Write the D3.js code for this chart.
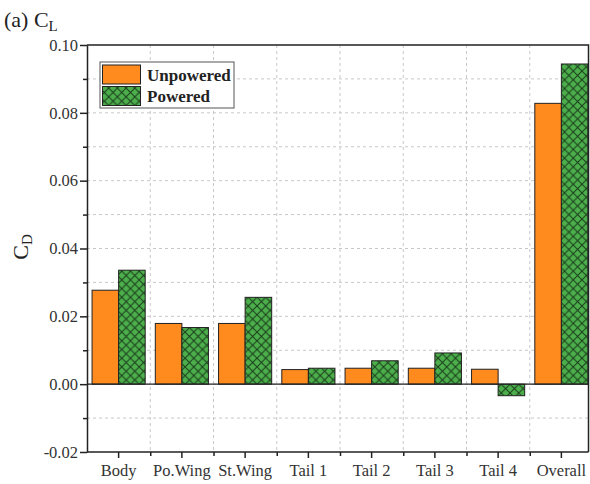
<!DOCTYPE html>
<html lang="en">
<head>
<meta charset="UTF-8">
<title>CD bar chart</title>
<script src="https://d3js.org/d3.v7.min.js"></script>
<style>
  body { margin: 0; background: #fff; }
  svg { display: block; }
  svg text { font-family: "Liberation Serif", "Times New Roman", serif; }
  .grid line { stroke: #c8c8c8; stroke-dasharray: 3,3; }
</style>
</head>
<body>
<svg width="590" height="484"></svg>
<script>
// data
var categories = ["Body", "Po.Wing", "St.Wing", "Tail 1", "Tail 2", "Tail 3", "Tail 4", "Overall"];
var unpowered = [0.0277, 0.0179, 0.0179, 0.0043, 0.0047, 0.0047, 0.0044, 0.0828];
var powered   = [0.0336, 0.0167, 0.0256, 0.0047, 0.0069, 0.0092, -0.0034, 0.0944];
var seriesNames = ["Unpowered", "Powered"];
var yTicks = [-0.02, 0.00, 0.02, 0.04, 0.06, 0.08, 0.10];

var svg = d3.select("svg"),
    margin = {top: 45, left: 87},
    width = 506,
    frameW = 501.5,
    height = 407;

var defs = svg.append("defs");
var pat = defs.append("pattern")
    .attr("id", "hatch")
    .attr("patternUnits", "userSpaceOnUse")
    .attr("width", 8.7).attr("height", 8.7);
pat.append("rect").attr("width", 8.7).attr("height", 8.7).attr("fill", "#4caf4c");
pat.append("path").attr("d", "M0,0L8.7,8.7M8.7,0L0,8.7")
    .attr("stroke", "#1a3a1a").attr("stroke-width", 1);

var g = svg.append("g").attr("transform", "translate(" + margin.left + "," + margin.top + ")");

var x = d3.scaleBand().domain(categories).range([0, width]);
var x1 = d3.scaleBand().domain(seriesNames).range([x.bandwidth() * 0.08, x.bandwidth() * 0.92]);
var y = d3.scaleLinear().domain([-0.02, 0.10]).range([height, 0]);
var px = d3.scaleLinear().domain([0, width]).range([0, width]);

// grid
var minor = d3.range(-1, 10).map(function(i) { return i / 100; });
g.append("g").attr("class", "grid")
  .selectAll("line").data(minor).enter().append("line")
  .attr("x1", 0).attr("x2", frameW)
  .attr("y1", function(d) { return y(d); }).attr("y2", function(d) { return y(d); });
g.append("g").attr("class", "grid")
  .selectAll("line").data(categories.slice(1)).enter().append("line")
  .attr("x1", function(d) { return x(d); }).attr("x2", function(d) { return x(d); })
  .attr("y1", 0).attr("y2", height);

// bars
var rows = categories.map(function(c, i) {
  return {cat: c, vals: [{s: "Unpowered", v: unpowered[i]}, {s: "Powered", v: powered[i]}]};
});
var grp = g.selectAll(".grp").data(rows).enter().append("g")
  .attr("transform", function(d) { return "translate(" + x(d.cat) + ",0)"; });
grp.selectAll("rect").data(function(d) { return d.vals; }).enter().append("rect")
  .attr("x", function(d) { return x1(d.s); })
  .attr("width", x1.bandwidth())
  .attr("y", function(d) { return y(Math.max(0, d.v)); })
  .attr("height", function(d) { return Math.abs(y(d.v) - y(0)); })
  .attr("fill", function(d) { return d.s === "Unpowered" ? "#ff8a1e" : "url(#hatch)"; })
  .attr("stroke", "#222").attr("stroke-width", 1);

// zero line
g.append("line").attr("x1", 0).attr("x2", frameW)
  .attr("y1", y(0)).attr("y2", y(0)).attr("stroke", "#222").attr("stroke-width", 1.2);

// axes
var yAxis = g.append("g")
  .call(d3.axisLeft(y).tickValues(yTicks)
    .tickFormat(function(d) { return d3.format(".2f")(d).replace("\u2212", "-"); })
    .tickSize(7).tickSizeOuter(0));
yAxis.selectAll("text").attr("font-size", 16.5).attr("fill", "#333").attr("x", -9);
g.append("g").call(d3.axisLeft(y).tickValues(minor.filter(function(d, i) { return i % 2 === 0; }))
    .tickFormat("").tickSize(4).tickSizeOuter(0))
  .select(".domain").remove();

var xAxis = g.append("g").attr("transform", "translate(0," + height + ")")
  .call(d3.axisBottom(x).tickSize(6).tickSizeOuter(0));
xAxis.select(".domain").attr("d", "M0,0H" + frameW);
xAxis.selectAll("text").attr("font-size", 16.5).attr("fill", "#333").attr("y", 12).attr("dy", "0.71em");
g.append("g").attr("transform", "translate(0," + height + ")")
  .call(d3.axisBottom(px)
    .tickValues(categories.slice(1).map(function(c) { return x(c); }))
    .tickFormat("").tickSize(4).tickSizeOuter(0))
  .select(".domain").remove();
g.selectAll(".domain, .tick line").attr("stroke", "#222").attr("stroke-width", 1.5);

// frame top / right
g.append("path").attr("d", "M0,0H" + frameW + "V" + height)
  .attr("fill", "none").attr("stroke", "#222").attr("stroke-width", 1.5);

// legend
var lg = svg.append("g").attr("transform", "translate(100,62)");
lg.append("rect").attr("width", 134).attr("height", 46).attr("fill", "#fff")
  .attr("stroke", "#555").attr("stroke-width", 1);
seriesNames.forEach(function(s, i) {
  lg.append("rect").attr("x", 2.5).attr("y", 3 + i * 21.5).attr("width", 38).attr("height", 19)
    .attr("fill", i === 0 ? "#ff8a1e" : "url(#hatch)").attr("stroke", "#222");
  lg.append("text").attr("x", 47).attr("y", 18.5 + i * 21.5).text(s)
    .attr("font-size", 17).attr("font-weight", "bold").attr("fill", "#222");
});

// titles
var t = svg.append("text").attr("x", 4).attr("y", 27).attr("font-size", 22).attr("fill", "#222");
t.append("tspan").text("(a) C");
t.append("tspan").text("L").attr("font-size", 15).attr("dy", 4);

var yl = svg.append("g").attr("transform", "translate(28,247)")
  .append("g").attr("transform", "rotate(-90)")
  .append("text").attr("x", 0).attr("y", 0)
  .attr("text-anchor", "middle").attr("font-size", 22).attr("fill", "#222");
yl.append("tspan").text("C");
yl.append("tspan").text("D").attr("font-size", 15).attr("dy", 4);
</script>
</body>
</html>
